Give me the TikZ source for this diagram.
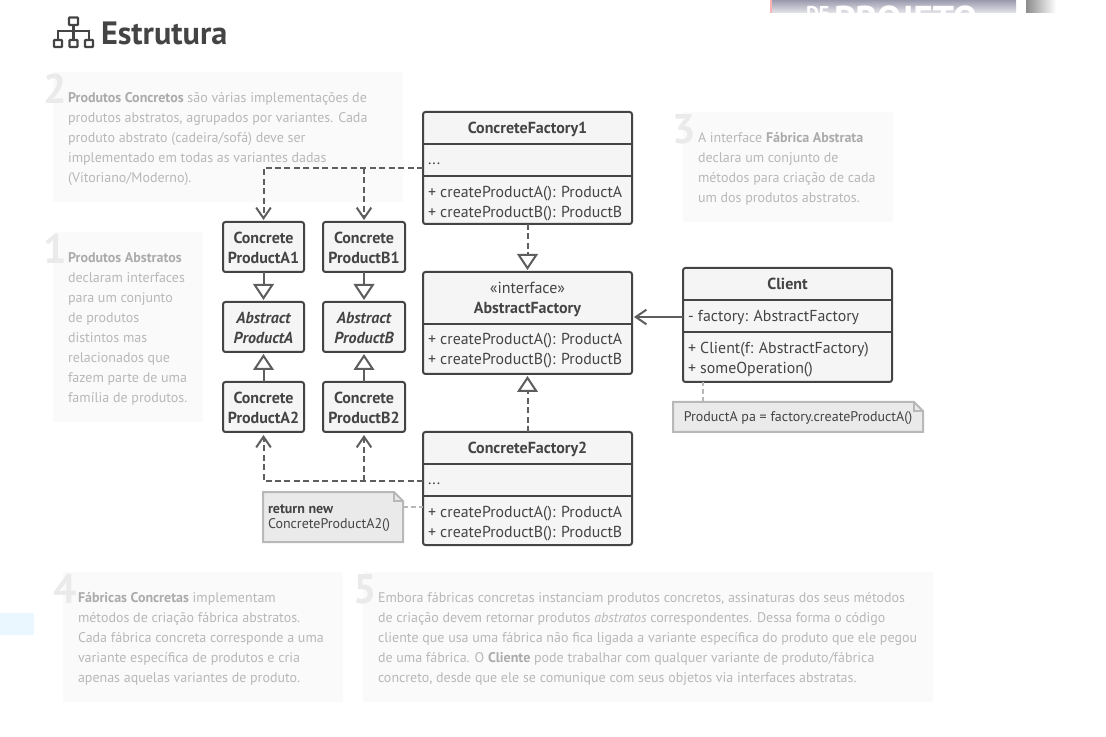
\documentclass[tikz,border=0pt]{standalone}
\usepackage{fontspec}
\setmainfont{PT Sans}
\usetikzlibrary{arrows.meta,calc}
\definecolor{ink}{HTML}{444444}
\definecolor{boxfill}{HTML}{F5F5F5}
\definecolor{notefill}{HTML}{EAEAEA}
\definecolor{noteline}{HTML}{B8B8B8}
\definecolor{panel}{HTML}{FAFAFA}
\definecolor{panelink}{HTML}{B8B8B8}
\definecolor{panelbold}{HTML}{ABABAB}
\definecolor{numink}{HTML}{EAEAEA}
\definecolor{arrowink}{HTML}{5E5E5E}
\definecolor{stripa}{HTML}{9A9AAE}
\definecolor{stripb}{HTML}{E6E6EA}
\newcommand{\pxfont}[2]{\fontsize{#1pt}{#2pt}\selectfont}
\tikzset{
  x=0.75pt,y=-0.75pt,
  every node/.style={inner sep=0pt,outer sep=0pt,text=ink},
  outerbox/.style={draw=ink,fill=boxfill,line width=1.5pt,rounded corners=1.8pt,anchor=north west},
  divider/.style={draw=ink,line width=1.5pt},
  member/.style={anchor=west,align=left,font=\pxfont{11.9}{15}},
  headtext/.style={anchor=center,align=center,font=\pxfont{12}{15}\bfseries},
  dep/.style={draw=arrowink,line width=1.5pt,dash pattern=on 4.5pt off 2.6pt,-{Straight Barb[length=8pt,width=11pt,line width=1.5pt]}},
  real/.style={draw=arrowink,line width=1.5pt,solid},
  open/.style={real,-{Straight Barb[length=8pt,width=11pt,line width=1.5pt]}},
  inherit/.style={real,-{Triangle[open,length=12pt,width=15.5pt,fill=white,line width=1.5pt]}},
  realize/.style={inherit,dash pattern=on 4.5pt off 2.6pt},
  noteshape/.style={draw=noteline,fill=notefill,line width=1.5pt},
  notelink/.style={draw=noteline,line width=1.1pt,dash pattern=on 3.5pt off 2.6pt},
  panelbox/.style={fill=panel,draw=none},
  paneltext/.style={anchor=north west,align=left,text=panelink,font=\pxfont{10.5}{15}},
  bignum/.style={anchor=center,text=numink,font=\pxfont{31}{31}\bfseries},
  iconline/.style={draw=ink,line width=1.7pt},
}
\newcommand{\pb}[1]{\textbf{\textcolor{panelbold}{#1}}}
% name, x1, y1, x2, y2
\newcommand{\classbox}[5]{\node[outerbox,minimum width=#4*0.75pt-#2*0.75pt,minimum height=#5*0.75pt-#3*0.75pt] (#1) at (#2,#3) {};}
\begin{document}
\begin{tikzpicture}
\useasboundingbox (0,0) rectangle (1106,737);
\fill[white] (0,0) rectangle (1106,737);
% background fragments
\begin{scope}
\clip (770,0) rectangle (1016,13);
\shade[top color=stripa,bottom color=stripb] (770,0) rectangle (1016,13);
\fill[red!30!white] (770,0) rectangle (772,13);
\node[anchor=west,text=white,font=\pxfont{15}{15}\bfseries] (stripde) at (806,14) {DE};
\node[anchor=west,text=white,font=\pxfont{28}{28}\bfseries] (strip) at (834,19) {PROJETO};
\end{scope}
\shade[left color=black!45,right color=white] (1026,0) rectangle (1056,13);
\fill[blue!40!cyan!8] (0,613) rectangle (34,635);
% title
\node[anchor=west,font=\pxfont{24.2}{26}\bfseries] (title) at (101,33) {Estrutura};
\draw[iconline,rounded corners=0.5pt] (69,17.5) rectangle (78,25);
\draw[iconline] (73.5,25) -- (73.5,39) (58,39) -- (58,31) -- (89,31) -- (89,39);
\draw[iconline,rounded corners=0.5pt] (54,40) rectangle (62,47) (69.5,40) rectangle (77.5,47) (85,40) rectangle (93,47);
% panels
\fill[panelbox] (53,72) rectangle (403,202);
\node[bignum] (n2) at (55,89) {2};
\node[paneltext] (t2) at (68,92.5) {\pb{Produtos Concretos} são várias implementações de\\produtos abstratos, agrupados por variantes. Cada\\produto abstrato (cadeira/sofá) deve ser\\implementado em todas as variantes dadas\\(Vitoriano/Moderno).};
\fill[panelbox] (53,232) rectangle (203,422);
\node[bignum] (n1) at (55,249) {1};
\node[paneltext] (t1) at (68,252.5) {\pb{Produtos Abstratos}\\declaram interfaces\\para um conjunto\\de produtos\\distintos mas\\relacionados que\\fazem parte de uma\\família de produtos.};
\fill[panelbox] (683,112) rectangle (893,222);
\node[bignum] (n3) at (684,129) {3};
\node[paneltext] (t3) at (698,132.5) {A interface \pb{Fábrica Abstrata}\\declara um conjunto de\\métodos para criação de cada\\um dos produtos abstratos.};
\fill[panelbox] (63,572) rectangle (343,702);
\node[bignum] (n4) at (65,589) {4};
\node[paneltext] (t4) at (78,592.5) {\pb{Fábricas Concretas} implementam\\métodos de criação fábrica abstratos.\\Cada fábrica concreta corresponde a uma\\variante específica de produtos e cria\\apenas aquelas variantes de produto.};
\fill[panelbox] (363,572) rectangle (933,702);
\node[bignum] (n5) at (365,589) {5};
\node[paneltext] (t5) at (378,592.5) {Embora fábricas concretas instanciam produtos concretos, assinaturas dos seus métodos\\de criação devem retornar produtos \textit{abstratos} correspondentes. Dessa forma o código\\cliente que usa uma fábrica não fica ligada a variante específica do produto que ele pegou\\de uma fábrica. O \pb{Cliente} pode trabalhar com qualquer variante de produto/fábrica\\concreto, desde que ele se comunique com seus objetos via interfaces abstratas.};
% classes
\classbox{cf1}{423}{112}{632}{224}
\classbox{af}{423}{272}{632}{374}
\classbox{cf2}{423}{432}{632}{545}
\classbox{cl}{683}{268}{892}{382}
\classbox{ca1}{223}{222}{304}{272}
\classbox{cb1}{323}{222}{405}{272}
\classbox{aa}{223}{302}{304}{352}
\classbox{ab}{323}{302}{405}{352}
\classbox{ca2}{223}{382}{304}{432}
\classbox{cb2}{323}{382}{405}{432}
\draw[divider] (423,144) -- (632,144) (423,176) -- (632,176);
\draw[divider] (423,324) -- (632,324);
\draw[divider] (423,464) -- (632,464) (423,496) -- (632,496);
\draw[divider] (683,300) -- (892,300) (683,332) -- (892,332);
\node[headtext] (cf1h) at (527.5,129) {ConcreteFactory1};
\node[member] (cf1a) at (428,164) {...};
\node[member] (cf1m) at (428,204) {+ createProductA(): ProductA\\+ createProductB(): ProductB};
\node[align=center,font=\pxfont{12}{15}] (afh) at (527.5,299) {«interface»\\\textbf{AbstractFactory}};
\node[member] (afm) at (428,351) {+ createProductA(): ProductA\\+ createProductB(): ProductB};
\node[headtext] (cf2h) at (527.5,449) {ConcreteFactory2};
\node[member] (cf2a) at (428,484) {...};
\node[member] (cf2m) at (428,524) {+ createProductA(): ProductA\\+ createProductB(): ProductB};
\node[headtext] (clh) at (787.5,284) {Client};
\node[member] (cla) at (688,317) {- factory: AbstractFactory};
\node[member] (clm) at (688,360) {+ Client(f: AbstractFactory)\\+ someOperation()};
\node[headtext] at ($(ca1.center)+(0,1)$) {Concrete\\ProductA1};
\node[headtext] at ($(cb1.center)+(0,1)$) {Concrete\\ProductB1};
\node[headtext,font=\pxfont{12}{15}\bfseries\itshape] at ($(aa.center)+(0,1)$) {Abstract\\ProductA};
\node[headtext,font=\pxfont{12}{15}\bfseries\itshape] at ($(ab.center)+(0,1)$) {Abstract\\ProductB};
\node[headtext] at ($(ca2.center)+(0,1)$) {Concrete\\ProductA2};
\node[headtext] at ($(cb2.center)+(0,1)$) {Concrete\\ProductB2};
% notes
\draw[noteshape] (263,492) -- (394,492) -- (403,501) -- (403,542) -- (263,542) -- cycle;
\draw[noteline,line width=1.2pt] (394,492) -- (394,501) -- (403,501);
\node[anchor=north west,align=left,font=\pxfont{10.5}{11.25}] (n1t) at (268,505) {\textbf{return new}\\ConcreteProductA2()};
\coordinate (n1e) at (403,507);
\draw[noteshape] (673,402) -- (914,402) -- (923,411) -- (923,432) -- (673,432) -- cycle;
\draw[noteline,line width=1.2pt] (914,402) -- (914,411) -- (923,411);
\node[anchor=center,font=\pxfont{10.5}{15}] (n2t) at (798,418) {ProductA pa = factory.createProductA()};
\coordinate (n2n) at (703,402);
\draw[notelink] (n1e) -- (n1e -| cf2.west);
\draw[notelink] (n2n) -- (n2n |- cl.south);
% connectors
\coordinate (d1) at (423,168);
\coordinate (d2) at (423,481);
\draw[dep] (d1) -- (d1 -| ca1.north) -- ($(ca1.north)+(0,-2)$);
\draw[dep] (d1 -| cb1.north) -- ($(cb1.north)+(0,-2)$);
\draw[dep] (d2) -- (d2 -| ca2.south) -- ($(ca2.south)+(0,3)$);
\draw[dep] (d2 -| cb2.south) -- ($(cb2.south)+(0,3)$);
\draw[inherit] (ca1.south) -- ($(aa.north)+(0,-2)$);
\draw[inherit] (cb1.south) -- ($(ab.north)+(0,-2)$);
\draw[inherit] (ca2.north) -- ($(aa.south)+(0,2)$);
\draw[inherit] (cb2.north) -- ($(ab.south)+(0,2)$);
\draw[realize] (cf1.south) -- ($(af.north)+(0,-2)$);
\draw[realize] (cf2.north) -- ($(af.south)+(0,2)$);
\draw[open] (cl.west |- cla.west) -- ($(cla.west -| af.east)+(2,0)$);
\end{tikzpicture}
\end{document}
